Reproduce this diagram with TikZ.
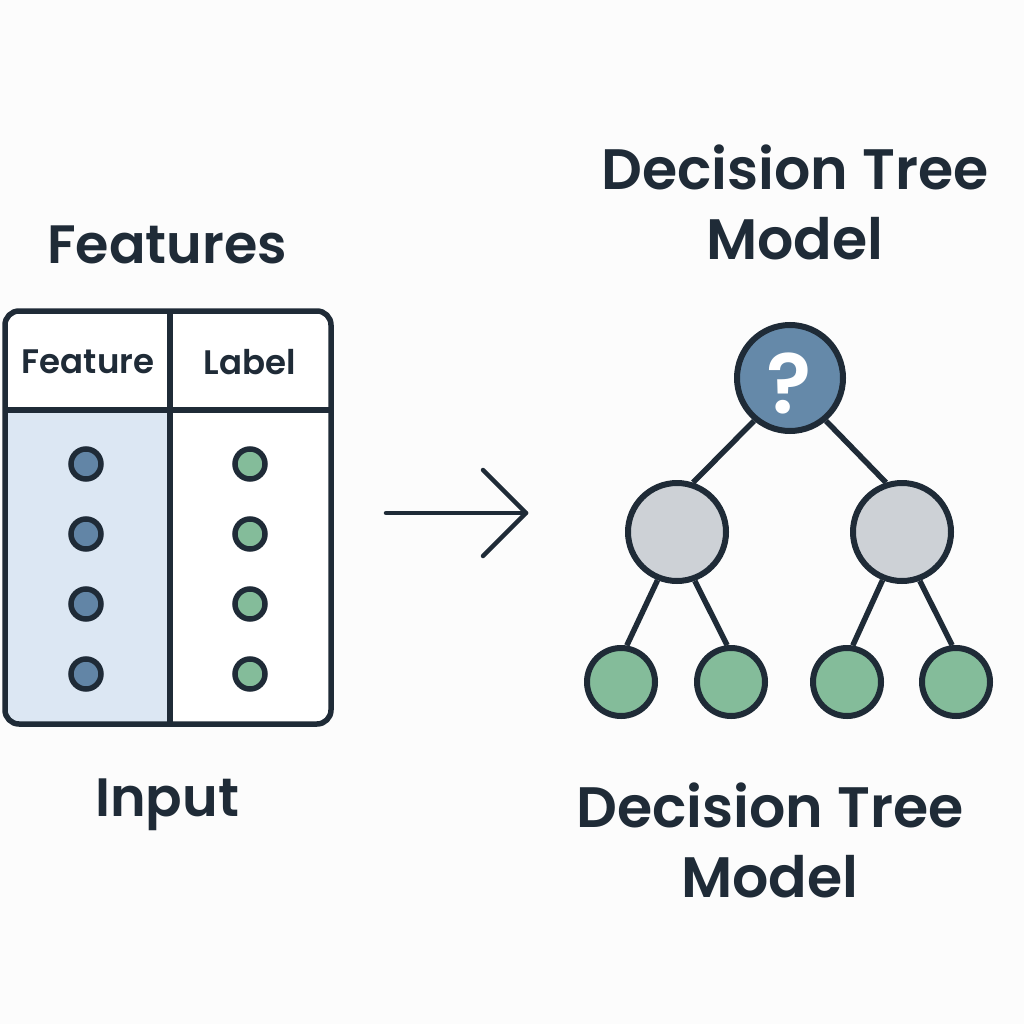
\documentclass[tikz,border=0pt]{standalone}
\usepackage{fontspec}
\setmainfont{Poppins}[BoldFont={* SemiBold}]
\definecolor{ink}{HTML}{1F2B37}
\definecolor{paper}{HTML}{FCFCFC}
\definecolor{featblue}{HTML}{DCE7F3}
\definecolor{dotblue}{HTML}{6285A6}
\definecolor{dotgreen}{HTML}{84BC9A}
\definecolor{rootblue}{HTML}{6589A9}
\definecolor{splitgray}{HTML}{CDD1D6}
\tikzset{
    heading/.style={text=ink, font=\bfseries\fontsize{54}{70}\selectfont, align=center, inner sep=0pt},
    treeheading/.style={heading, font=\bfseries\fontsize{57}{70}\selectfont},
    colhead/.style={text=ink, font=\bfseries\fontsize{34}{40}\selectfont, inner sep=0pt},
    featdot/.style={circle, draw=ink, line width=5.5pt, fill=dotblue, minimum size=30pt, inner sep=0pt},
    labeldot/.style={circle, draw=ink, line width=5.5pt, fill=dotgreen, minimum size=30pt, inner sep=0pt},
    rootnode/.style={circle, draw=ink, line width=6pt, fill=rootblue, minimum size=106pt, inner sep=0pt},
    splitnode/.style={circle, draw=ink, line width=6pt, fill=splitgray, minimum size=98pt, inner sep=0pt},
    leafnode/.style={circle, draw=ink, line width=6pt, fill=dotgreen, minimum size=68pt, inner sep=0pt},
    branch/.style={draw=ink, line width=5.5pt}
}
\begin{document}
\begin{tikzpicture}[x=1pt, y=-1pt]
    % Background
    \fill[paper] (0,0) rectangle (1024,1024);

    % Titles
    \node[heading] (features) at (167,245) {Features};
    \node[heading] (input) at (167,805) {Input};
    \node[treeheading] (modeltop) at (795,202) {Decision Tree\\Model};
    \node[treeheading] (modelbottom) at (770,840) {Decision Tree\\Model};

    % Table with feature column shaded
    \begin{scope}
        \clip[rounded corners=14pt] (5,311) rectangle (331,724);
        \fill[featblue] (5,410) rectangle (170,724);
        \fill[white] (170,410) rectangle (331,724);
        \fill[white] (5,311) rectangle (331,410);
    \end{scope}
    \draw[ink, line width=5.5pt, rounded corners=14pt] (5,311) rectangle (331,724);
    \draw[ink, line width=5.5pt] (170,311) -- (170,724);
    \draw[ink, line width=5.5pt] (5,410) -- (331,410);
    \node[colhead] (feathead) at (88,362) {Feature};
    \node[colhead] (labelhead) at (250,362) {Label};

    % Dots in the rows
    \foreach \i/\y in {1/464, 2/534, 3/604, 4/674} {
        \node[featdot] (f\i) at (86,\y) {};
        \node[labeldot] (l\i) at (250,\y) {};
    }

    % Arrow from input to model
    \coordinate (arrowstart) at (386,513);
    \coordinate (arrowend) at (526,513);
    \draw[ink, line width=4.5pt, line cap=round, line join=round] (arrowstart) -- (arrowend);
    \draw[ink, line width=4.5pt, line cap=round, line join=round] (483,470) -- (arrowend) -- (483,556);

    % Tree nodes
    \node[rootnode] (root) at (790,378) {};
    \node[text=white, font=\bfseries\fontsize{84}{84}\selectfont, inner sep=0pt] (question) at (789,383) {?};
    \node[splitnode] (left) at (677,532) {};
    \node[splitnode] (right) at (902,532) {};
    \foreach \name/\x in {ll/621, lr/731, rl/847, rr/956}
        \node[leafnode] (\name) at (\x,682) {};

    % Branches
    \draw[branch] (root.230) -- (left.72);
    \draw[branch] (root.310) -- (right.108);
    \draw[branch] (left.248) -- (ll.81);
    \draw[branch] (left.290) -- (lr.96);
    \draw[branch] (right.248) -- (rl.81);
    \draw[branch] (right.290) -- (rr.96);
\end{tikzpicture}
\end{document}
